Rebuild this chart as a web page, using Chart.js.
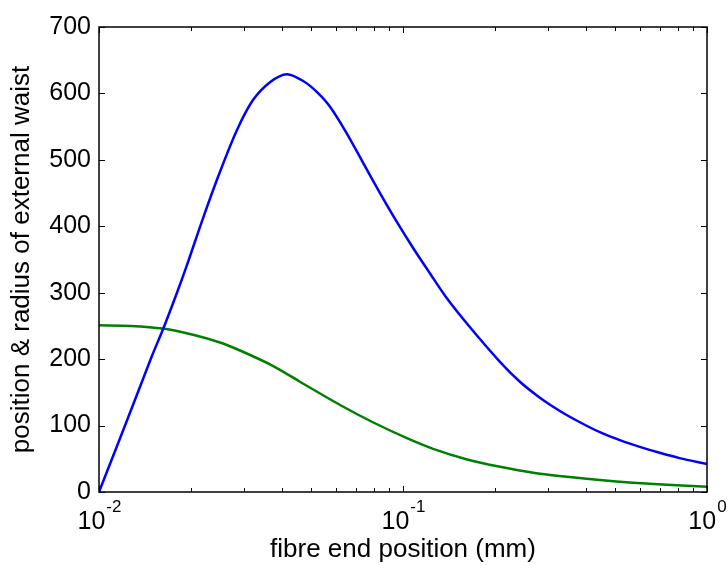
<!DOCTYPE html>
<html>
<head>
<meta charset="utf-8">
<title>fibre end position</title>
<script src="https://cdn.jsdelivr.net/npm/chart.js@4/dist/chart.umd.min.js"></script>
<style>
  html, body { margin: 0; padding: 0; background: #fff; }
  canvas { display: block; }
</style>
</head>
<body>
<canvas id="waistChart" width="728" height="565"></canvas>
<script>
// values (x in mm, log axis)
const blueX = [0.01, 0.01218, 0.01494, 0.01624, 0.01805, 0.01948, 0.02198, 0.025, 0.02844, 0.0321,
  0.03651, 0.04153, 0.04722, 0.05214, 0.05754, 0.0653, 0.07403, 0.084, 0.09534, 0.1081,
  0.1227, 0.1392, 0.1661, 0.2084, 0.2424, 0.282, 0.328, 0.382, 0.444, 0.517,
  0.601, 0.699, 0.813, 1.0];
const blueY = [0, 100, 205, 245, 300, 342, 412, 482, 545, 590,
  617, 629, 618, 602, 580, 540, 495, 450, 407, 367,
  329, 292, 248, 196, 166, 142, 122, 105, 90, 78,
  68, 59, 51, 42];

const greenX = [0.01, 0.0127, 0.0162, 0.0207, 0.025, 0.0291, 0.0373, 0.0458, 0.0621, 0.0796,
  0.103, 0.1256, 0.1626, 0.2084, 0.2681, 0.3461, 0.444, 0.5714, 0.7381, 1.0];
const greenY = [251, 250, 246, 236, 225, 213, 190, 166, 131, 105,
  81, 65, 49, 38, 29, 23, 18, 14, 11, 8];

const xDecades = [0.01, 0.1, 1];
const xExponents = ["-2", "-1", "0"];
const yTicks = [0, 100, 200, 300, 400, 500, 600, 700];

const FONT = "'Liberation Sans', Arial, sans-serif";

function toPoints(xs, ys) {
  return xs.map((x, i) => ({ x: x, y: ys[i] }));
}

// matlab style box, inward ticks and 10^n labels
const matlabAxes = {
  id: "matlabAxes",
  afterDraw(chart) {
    const ctx = chart.ctx;
    const area = chart.chartArea;
    const xs = chart.scales.x;
    const ys = chart.scales.y;
    ctx.save();
    ctx.strokeStyle = "#000";
    ctx.lineWidth = 1.5;
    ctx.strokeRect(area.left, area.top, area.right - area.left, area.bottom - area.top);

    ctx.lineWidth = 1;
    ctx.beginPath();
    // x ticks, majors and minors
    for (let d = 0; d < xDecades.length; d++) {
      for (let m = 1; m <= 9; m++) {
        const v = xDecades[d] * m;
        if (v > 1.0001) break;
        const px = Math.round(xs.getPixelForValue(v)) + 0.5;
        const len = m === 1 ? 6 : 4;
        ctx.moveTo(px, area.bottom);
        ctx.lineTo(px, area.bottom - len);
        ctx.moveTo(px, area.top);
        ctx.lineTo(px, area.top + len);
      }
    }
    // y ticks both sides
    yTicks.forEach((v) => {
      const py = Math.round(ys.getPixelForValue(v)) + 0.5;
      ctx.moveTo(area.left, py);
      ctx.lineTo(area.left + 6, py);
      ctx.moveTo(area.right, py);
      ctx.lineTo(area.right - 6, py);
    });
    ctx.stroke();

    // x labels 10^n
    ctx.fillStyle = "#000";
    ctx.textBaseline = "alphabetic";
    ctx.textAlign = "left";
    xDecades.forEach((v, i) => {
      const px = xs.getPixelForValue(v);
      ctx.font = "25px " + FONT;
      const wBase = ctx.measureText("10").width;
      ctx.font = "17px " + FONT;
      const wExp = ctx.measureText(xExponents[i]).width;
      const start = px - (wBase + wExp) / 2;
      ctx.font = "25px " + FONT;
      ctx.fillText("10", start, area.bottom + 37);
      ctx.font = "17px " + FONT;
      ctx.fillText(xExponents[i], start + wBase + 1, area.bottom + 20);
    });
    ctx.restore();
  },
};

new Chart(document.getElementById("waistChart"), {
  type: "line",
  data: {
    datasets: [
      {
        label: "position",
        data: toPoints(blueX, blueY),
        borderColor: "#0000ff",
        borderWidth: 2.5,
        pointRadius: 0,
        tension: 0.3,
        fill: false,
      },
      {
        label: "radius",
        data: toPoints(greenX, greenY),
        borderColor: "#008000",
        borderWidth: 2.5,
        pointRadius: 0,
        tension: 0.3,
        fill: false,
      },
    ],
  },
  options: {
    responsive: false,
    animation: false,
    layout: { padding: { top: 27, right: 21, left: 0, bottom: 0 } },
    plugins: {
      legend: { display: false },
      tooltip: { enabled: false },
    },
    scales: {
      x: {
        type: "logarithmic",
        min: 0.01,
        max: 1,
        grid: { display: false, drawTicks: false },
        border: { display: false },
        ticks: { display: false },
        title: {
          display: true,
          text: "fibre end position (mm)",
          color: "#000",
          font: { family: FONT, size: 26 },
          padding: { top: 0, bottom: 0 },
        },
        afterFit(scale) {
          scale.height = 73;
        },
      },
      y: {
        min: 0,
        max: 700,
        grid: { display: false, drawTicks: false },
        border: { display: false },
        ticks: {
          stepSize: 100,
          color: "#000",
          padding: 8,
          font: { family: FONT, size: 25 },
        },
        title: {
          display: true,
          text: "position & radius of external waist",
          color: "#000",
          font: { family: FONT, size: 26 },
          padding: { top: 6, bottom: 0 },
        },
        afterFit(scale) {
          scale.width = 99;
        },
      },
    },
  },
  plugins: [matlabAxes],
});
</script>
</body>
</html>
